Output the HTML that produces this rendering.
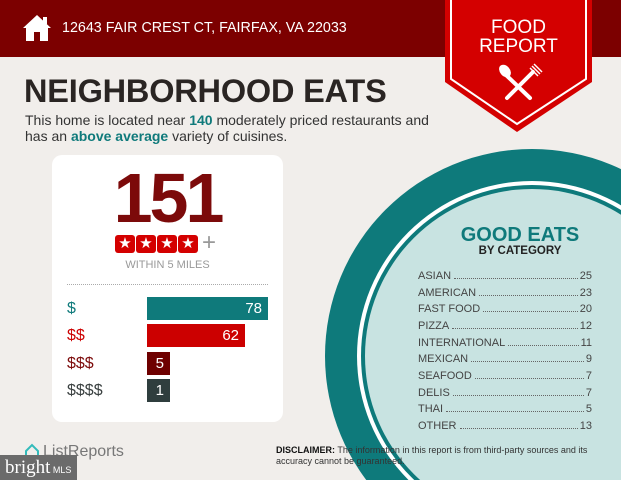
<!DOCTYPE html>
<html><head><meta charset="utf-8"><style>
*{margin:0;padding:0;box-sizing:border-box}
html,body{width:621px;height:480px;overflow:hidden}
body{background:#f1eeeb;font-family:"Liberation Sans",sans-serif;position:relative}
.abs{position:absolute}
.hdr{left:0;top:0;width:621px;height:57px;background:#7c0000}
.row{position:absolute;left:418px;width:174px;font-size:11px;color:#444;display:flex;align-items:flex-end;white-space:nowrap;height:13px}
.row .d{flex:1;border-bottom:1px dotted #666;margin:0 2px 3px 3px}
.bar{position:absolute;left:147px;height:23px;color:#fff;font-size:15px;text-align:right;padding-right:6px;line-height:23px}
.lab{position:absolute;left:67px;font-size:16px;line-height:23px}
.star{position:absolute;top:235px;width:20px;height:18px;background:#d40000;border-radius:3px;color:#fff;font-size:15px;line-height:18px;text-align:center}
</style></head><body>
<div class="abs hdr"></div>
<svg class="abs" style="left:22px;top:14px" width="30" height="28" viewBox="0 0 30 28"><path d="M15 1 L1 14 L4 14 L4 27 L12 27 L12 18 L18 18 L18 27 L26 27 L26 14 L29 14 Z" fill="#fff"/><rect x="21" y="3" width="4" height="7" fill="#fff"/></svg>
<div class="abs" style="left:62px;top:20px;color:#fff;font-size:14.3px;white-space:nowrap">12643 FAIR CREST CT, FAIRFAX, VA 22033</div>
<svg class="abs" style="left:440px;top:0" width="160" height="140" viewBox="440 0 160 140">
<polygon points="445,0 592,0 592,82 517,132 445,82" fill="#d40000"/>
<polyline points="451,0 451,79 517,124 586,79 586,0" fill="none" stroke="#fff" stroke-width="2"/>
<g stroke="#fff" stroke-width="4" stroke-linecap="round"><line x1="505" y1="74" x2="530" y2="98"/><line x1="533" y1="72" x2="507" y2="98"/></g>
<ellipse cx="505" cy="71" rx="5" ry="7" fill="#fff" transform="rotate(-40 505 71)"/>
<g stroke="#fff" stroke-width="1.5"><line x1="530" y1="68" x2="538" y2="76"/><line x1="532" y1="66" x2="540" y2="74"/><line x1="534" y1="64" x2="542" y2="72"/></g>
</svg>
<div class="abs" style="left:445px;top:18px;width:147px;text-align:center;color:#fff;font-size:19px;line-height:19px">FOOD<br>REPORT</div>
<div class="abs" style="left:24px;top:73px;font-size:32.5px;font-weight:bold;color:#2a2523;white-space:nowrap;letter-spacing:-0.2px">NEIGHBORHOOD EATS</div>
<div class="abs" style="left:25px;top:112px;font-size:14px;line-height:16px;color:#333;width:420px">This home is located near <b style="color:#0f7a7b">140</b> moderately priced restaurants and has an <b style="color:#0f7a7b">above average</b> variety of cuisines.</div>

<svg class="abs" style="left:0;top:0" width="621" height="480">
<circle cx="532" cy="356" r="207" fill="#0e7a7b"/>
<circle cx="532" cy="356" r="175" fill="#fff"/>
<circle cx="532" cy="356" r="171" fill="#0e7a7b"/>
<circle cx="532" cy="356" r="167" fill="#c8e3e1"/>
</svg>

<div class="abs" style="left:52px;top:155px;width:231px;height:267px;background:#fff;border-radius:10px"></div>
<div class="abs" style="left:52px;top:160px;width:231px;text-align:center;font-size:70px;font-weight:bold;color:#7c0a0a;letter-spacing:-3px;line-height:76px">151</div>
<div class="star" style="left:115px">★</div><div class="star" style="left:136px">★</div><div class="star" style="left:157px">★</div><div class="star" style="left:178px">★</div>
<div class="abs" style="left:202px;top:229px;font-size:24px;color:#999">+</div>
<div class="abs" style="left:52px;top:259px;width:231px;text-align:center;font-size:11px;color:#999">WITHIN 5 MILES</div>
<div class="abs" style="left:67px;top:284px;width:201px;border-top:1px dotted #aaa"></div>
<div class="lab" style="top:297px;color:#0f7a7b">$</div>
<div class="lab" style="top:324px;color:#cc0000">$$</div>
<div class="lab" style="top:352px;color:#7c0a0a">$$$</div>
<div class="lab" style="top:379px;color:#3a4040">$$$$</div>
<div class="bar" style="top:297px;width:121px;background:#0f7a7b">78</div>
<div class="bar" style="top:324px;width:98px;background:#cc0000">62</div>
<div class="bar" style="top:352px;width:23px;background:#6e0000">5</div>
<div class="bar" style="top:379px;width:23px;background:#2f3e3e">1</div>

<div class="abs" style="left:420px;top:224px;width:200px;text-align:center;font-size:20px;font-weight:bold;color:#0f7a7b;line-height:22px">GOOD EATS</div>
<div class="abs" style="left:420px;top:245px;width:200px;text-align:center;font-size:11.5px;font-weight:bold;color:#222">BY CATEGORY</div>
<div class="row" style="top:269px"><span>ASIAN</span><span class="d"></span><span>25</span></div>
<div class="row" style="top:286px"><span>AMERICAN</span><span class="d"></span><span>23</span></div>
<div class="row" style="top:302px"><span>FAST FOOD</span><span class="d"></span><span>20</span></div>
<div class="row" style="top:319px"><span>PIZZA</span><span class="d"></span><span>12</span></div>
<div class="row" style="top:336px"><span>INTERNATIONAL</span><span class="d"></span><span>11</span></div>
<div class="row" style="top:352px"><span>MEXICAN</span><span class="d"></span><span>9</span></div>
<div class="row" style="top:369px"><span>SEAFOOD</span><span class="d"></span><span>7</span></div>
<div class="row" style="top:386px"><span>DELIS</span><span class="d"></span><span>7</span></div>
<div class="row" style="top:402px"><span>THAI</span><span class="d"></span><span>5</span></div>
<div class="row" style="top:419px"><span>OTHER</span><span class="d"></span><span>13</span></div>

<div class="abs" style="left:276px;top:445px;font-size:9px;line-height:11px;color:#333;width:340px">
<b style="color:#111">DISCLAIMER:</b> The information in this report is from third-party sources and its accuracy cannot be guaranteed.</div>
<svg class="abs" style="left:24px;top:443px" width="16" height="16"><path d="M2 8 L8 2 L14 8 L14 14 L2 14 Z" fill="none" stroke="#3bb" stroke-width="2"/></svg>
<div class="abs" style="left:43px;top:443px;font-size:16px;color:#777">ListReports</div>
<div class="abs" style="left:0;top:455px;width:77px;height:25px;background:#6b6b6b"></div>
<div class="abs" style="left:5px;top:457px;font-family:'Liberation Serif',serif;font-size:19px;color:#fff;white-space:nowrap">bright<span style="font-family:'Liberation Sans',sans-serif;font-size:9px"> MLS</span></div>
</body></html>
